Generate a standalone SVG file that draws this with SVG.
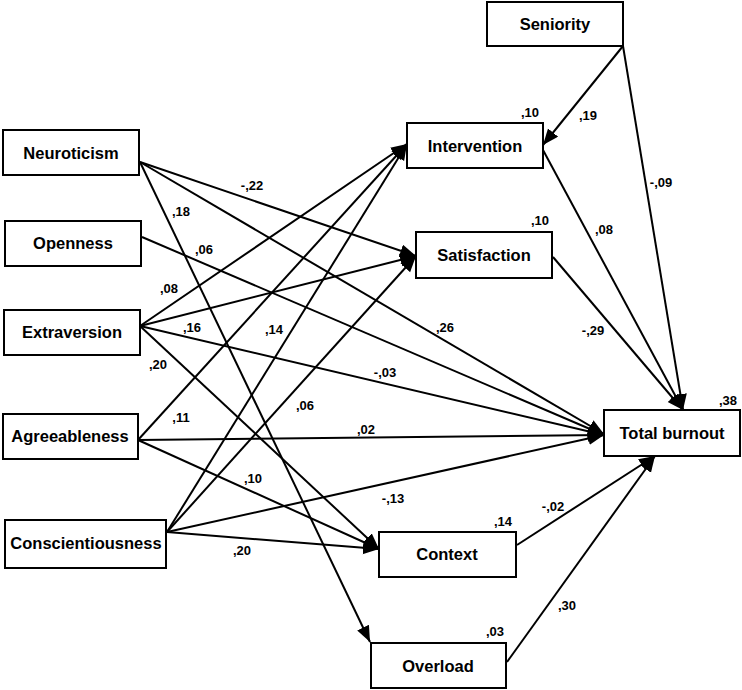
<svg xmlns="http://www.w3.org/2000/svg" width="742" height="690" viewBox="0 0 742 690">
<defs>
<marker id="ah" markerUnits="userSpaceOnUse" markerWidth="18" markerHeight="14" refX="16" refY="6.5" orient="auto">
<path d="M0,0 L16,6.5 L0,13 z" fill="#000"/>
</marker>
<style>
.box{fill:#fff;stroke:#000;stroke-width:2}
.nl{font-family:"Liberation Sans",Arial,sans-serif;font-weight:bold;font-size:16.5px;text-anchor:middle;fill:#000}
.el{font-family:"Liberation Sans",Arial,sans-serif;font-weight:bold;font-size:13px;text-anchor:middle;fill:#000}
.cn line{stroke:#000;stroke-width:2;marker-end:url(#ah)}
</style>
</defs>
<rect width="742" height="690" fill="#fff"/>
<g id="connectors" class="cn">
<line x1="140" y1="162" x2="416" y2="256"/>
<line x1="140" y1="162" x2="604" y2="434"/>
<line x1="140" y1="162" x2="370" y2="642"/>
<line x1="142" y1="237" x2="604" y2="435"/>
<line x1="140" y1="326" x2="407" y2="144"/>
<line x1="140" y1="326" x2="416" y2="256"/>
<line x1="140" y1="326" x2="604" y2="435"/>
<line x1="140" y1="326" x2="379" y2="549"/>
<line x1="138" y1="440" x2="407" y2="144"/>
<line x1="138" y1="440" x2="604" y2="435"/>
<line x1="138" y1="440" x2="379" y2="549"/>
<line x1="167" y1="532" x2="407" y2="144"/>
<line x1="167" y1="532" x2="416" y2="256"/>
<line x1="167" y1="532" x2="604" y2="435"/>
<line x1="167" y1="532" x2="379" y2="549"/>
<line x1="623" y1="46" x2="543" y2="145"/>
<line x1="623" y1="46" x2="683" y2="410"/>
<line x1="543" y1="150" x2="683" y2="410"/>
<line x1="553" y1="257" x2="683" y2="410"/>
<line x1="517" y1="545" x2="655" y2="456"/>
<line x1="507" y1="662" x2="655" y2="456"/>
</g>
<g id="edge-labels">
<text class="el" x="252" y="190">-,22</text>
<text class="el" x="181" y="216">,18</text>
<text class="el" x="204" y="254">,06</text>
<text class="el" x="169" y="293">,08</text>
<text class="el" x="192" y="332">,16</text>
<text class="el" x="158" y="369">,20</text>
<text class="el" x="274" y="334">,14</text>
<text class="el" x="385" y="377">-,03</text>
<text class="el" x="305" y="410">,06</text>
<text class="el" x="181" y="422">,11</text>
<text class="el" x="366" y="434">,02</text>
<text class="el" x="253" y="483">,10</text>
<text class="el" x="393" y="503">-,13</text>
<text class="el" x="242" y="555">,20</text>
<text class="el" x="445" y="332">,26</text>
<text class="el" x="593" y="335">-,29</text>
<text class="el" x="604" y="234">,08</text>
<text class="el" x="661" y="187">-,09</text>
<text class="el" x="588" y="120">,19</text>
<text class="el" x="553" y="511">-,02</text>
<text class="el" x="567" y="610">,30</text>
</g>
<g id="seniority"><rect class="box" x="487" y="2" width="136" height="44"/><text class="nl" x="555" y="30">Seniority</text></g>
<g id="neuroticism"><rect class="box" x="3" y="130" width="136" height="45"/><text class="nl" x="71" y="159">Neuroticism</text></g>
<g id="openness"><rect class="box" x="5" y="221" width="136" height="45"/><text class="nl" x="73" y="249">Openness</text></g>
<g id="extraversion"><rect class="box" x="4" y="310" width="136" height="45"/><text class="nl" x="72" y="338">Extraversion</text></g>
<g id="agreeableness"><rect class="box" x="3" y="414" width="135" height="45"/><text class="nl" x="70" y="442">Agreeableness</text></g>
<g id="conscientiousness"><rect class="box" x="5" y="520" width="161" height="48"/><text class="nl" x="86" y="549">Conscientiousness</text></g>
<g id="intervention"><rect class="box" x="407" y="123" width="136" height="45"/><text class="nl" x="475" y="152">Intervention</text><text class="el" x="530" y="117">,10</text></g>
<g id="satisfaction"><rect class="box" x="416" y="232" width="136" height="46"/><text class="nl" x="484" y="261">Satisfaction</text><text class="el" x="540" y="225">,10</text></g>
<g id="total-burnout"><rect class="box" x="604" y="410" width="136" height="46"/><text class="nl" x="672" y="439">Total burnout</text><text class="el" x="728" y="405">,38</text></g>
<g id="context"><rect class="box" x="379" y="532" width="137" height="45"/><text class="nl" x="447" y="560">Context</text><text class="el" x="503" y="526">,14</text></g>
<g id="overload"><rect class="box" x="371" y="643" width="135" height="45"/><text class="nl" x="438" y="672">Overload</text><text class="el" x="495" y="636">,03</text></g>
</svg>
